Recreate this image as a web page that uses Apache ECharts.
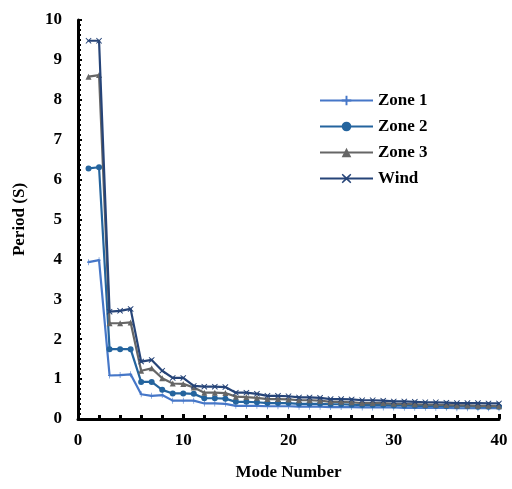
<!DOCTYPE html>
<html><head><meta charset="utf-8">
<script src="https://cdn.jsdelivr.net/npm/echarts@6/dist/echarts.min.js"></script>
<style>html,body{margin:0;padding:0;background:#fff}#c{width:512px;height:489px}</style>
</head><body><div id="c"></div>
<script>
const modes = [1,2,3,4,5,6,7,8,9,10,11,12,13,14,15,16,17,18,19,20,21,22,23,24,25,26,27,28,29,30,31,32,33,34,35,36,37,38,39,40];
const zone1 = [3.93,3.98,1.09,1.10,1.12,0.62,0.58,0.60,0.46,0.46,0.46,0.39,0.39,0.38,0.33,0.33,0.33,0.32,0.32,0.32,0.31,0.31,0.31,0.30,0.30,0.30,0.29,0.29,0.29,0.29,0.28,0.28,0.28,0.28,0.28,0.27,0.27,0.27,0.27,0.27];
const zone2 = [6.28,6.31,1.75,1.75,1.75,0.93,0.93,0.73,0.64,0.64,0.63,0.52,0.52,0.51,0.43,0.43,0.42,0.40,0.40,0.40,0.38,0.38,0.38,0.37,0.37,0.36,0.35,0.35,0.35,0.34,0.34,0.33,0.33,0.33,0.32,0.32,0.32,0.31,0.31,0.31];
const zone3 = [8.58,8.62,2.40,2.40,2.42,1.21,1.27,1.02,0.89,0.88,0.79,0.66,0.66,0.65,0.56,0.55,0.53,0.50,0.50,0.49,0.47,0.47,0.46,0.43,0.43,0.42,0.40,0.40,0.40,0.38,0.38,0.37,0.36,0.36,0.35,0.34,0.34,0.33,0.33,0.32];
const wind  = [9.48,9.48,2.69,2.71,2.76,1.44,1.48,1.21,1.03,1.03,0.83,0.81,0.81,0.80,0.66,0.66,0.63,0.58,0.58,0.57,0.54,0.54,0.53,0.50,0.50,0.49,0.47,0.47,0.46,0.44,0.44,0.43,0.42,0.42,0.41,0.40,0.40,0.40,0.39,0.39];
const seriesNames = ['Zone 1','Zone 2','Zone 3','Wind'];

const plusSym = 'path://M4,0 L6,0 L6,4 L10,4 L10,6 L6,6 L6,10 L4,10 L4,6 L0,6 L0,4 L4,4 Z';
const xSym = 'path://M1,0 L5,3.6 L9,0 L10,1 L6.4,5 L10,9 L9,10 L5,6.4 L1,10 L0,9 L3.6,5 L0,1 Z';
const font = '"Liberation Serif","Times New Roman",serif';
const colors = ['#4677C8','#24649E','#666666','#264478'];
const symbols = [plusSym,'circle','triangle',xSym];
const symSizes = [[3,6],6,6,6];
const datasets = [zone1,zone2,zone3,wind];

const chart = echarts.init(document.getElementById('c'));
chart.setOption({
  animation:false,
  backgroundColor:'#fff',
  grid:{left:78,right:13,top:20,bottom:70,containLabel:false,outerBoundsMode:'none'},
  legend:{
    orient:'vertical', left:314, top:87, itemWidth:53, itemHeight:12, itemGap:9,
    textStyle:{fontFamily:font,fontWeight:'bold',fontSize:17,color:'#000'},
    data:seriesNames
  },
  xAxis:{
    type:'value', min:0, max:40, interval:10,
    name:'Mode Number', nameLocation:'middle', nameGap:45,
    nameTextStyle:{fontFamily:font,fontWeight:'bold',fontSize:17,color:'#000'},
    axisLine:{show:true,lineStyle:{color:'#000',width:3}},
    axisTick:{show:true,inside:true,length:5,lineStyle:{color:'#000',width:3}},
    minorTick:{show:true,splitNumber:5,length:4,lineStyle:{color:'#000',width:3}},
    splitLine:{show:false},
    axisLabel:{fontFamily:font,fontWeight:'bold',fontSize:17,color:'#000',margin:13}
  },
  yAxis:{
    type:'value', min:0, max:10, interval:1,
    name:'Period (S)', nameLocation:'middle', nameGap:50, nameRotate:90,
    nameTextStyle:{fontFamily:font,fontWeight:'bold',fontSize:17,color:'#000'},
    axisLine:{show:true,lineStyle:{color:'#000',width:3}},
    axisTick:{show:true,inside:true,length:4,lineStyle:{color:'#000',width:2}},
    minorTick:{show:true,splitNumber:8,length:3,lineStyle:{color:'#000',width:2}},
    splitLine:{show:false},
    axisLabel:{fontFamily:font,fontWeight:'bold',fontSize:17,color:'#000',margin:16}
  },
  series: seriesNames.map((n,i)=>({
    name:n, type:'line',
    data: modes.map((m,j)=>[m,datasets[i][j]]),
    symbol:symbols[i], symbolSize:symSizes[i], showSymbol:true,
    lineStyle:{color:colors[i],width:2.2},
    itemStyle:{color:colors[i]},
    z: 2+i
  }))
});
</script></body></html>
